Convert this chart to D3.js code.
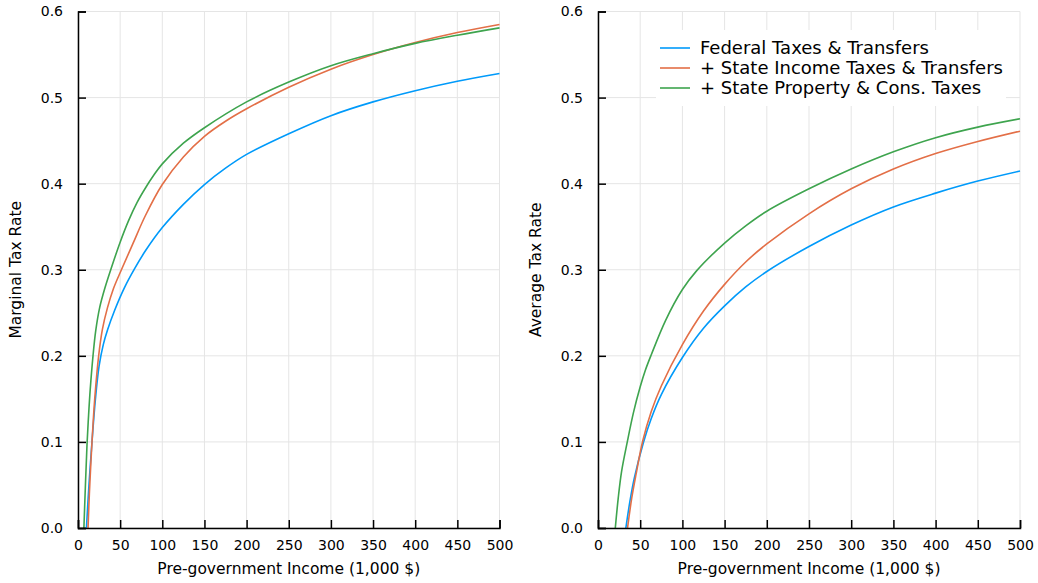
<!DOCTYPE html>
<html>
<head>
<meta charset="utf-8">
<script src="https://cdn.jsdelivr.net/npm/d3@7"></script>
<style>
  body { margin: 0; background: #fff; }
  svg { display: block; }
  text { font-family: "DejaVu Sans", sans-serif; fill: #000; }
</style>
</head>
<body>
<svg id="chart" width="1038" height="583"></svg>
<script>
// Series labels and colours
const seriesNames = [
  "Federal Taxes & Transfers",
  "+ State Income Taxes & Transfers",
  "+ State Property & Cons. Taxes"
];
const seriesColors = ["#009AFA", "#E36F47", "#3EA44E"];

// Axis ticks
const xTicks = [0, 50, 100, 150, 200, 250, 300, 350, 400, 450, 500];
const yTicks = [0.0, 0.1, 0.2, 0.3, 0.4, 0.5, 0.6];

// Marginal tax rates (income in 1,000 $)
const mtrFedIncome    = [10, 13, 16.6, 20.6, 25, 30, 35, 43.5, 55, 67, 80, 100, 125, 150, 175, 200, 250, 300, 350, 400, 450, 500];
const mtrFedRate      = [0, 0.05, 0.1, 0.149, 0.188, 0.213, 0.23, 0.253, 0.279, 0.301, 0.322, 0.349, 0.376, 0.399, 0.418, 0.434, 0.458, 0.479, 0.495, 0.508, 0.519, 0.528];
const mtrStIncIncome  = [11.9, 13.5, 15.5, 17.5, 20, 24.5, 29, 35, 42, 51.5, 65, 80, 100, 125, 150, 175, 200, 250, 300, 350, 400, 450, 500];
const mtrStIncRate    = [0, 0.04, 0.08, 0.115, 0.152, 0.2, 0.231, 0.256, 0.278, 0.30, 0.33, 0.363, 0.399, 0.431, 0.455, 0.4725, 0.487, 0.512, 0.533, 0.550, 0.564, 0.5756, 0.585];
const mtrStPropIncome = [7, 9, 10.7, 12.5, 14.5, 17.8, 21, 25.7, 32, 39.5, 50, 60, 70, 80, 90, 100, 125, 150, 200, 250, 300, 350, 400, 450, 500];
const mtrStPropRate   = [0, 0.055, 0.097, 0.13, 0.161, 0.2, 0.229, 0.256, 0.279, 0.302, 0.332, 0.357, 0.378, 0.395, 0.41, 0.423, 0.447, 0.465, 0.495, 0.518, 0.537, 0.551, 0.563, 0.5725, 0.581];

// Average tax rates (income in 1,000 $)
const atrFedIncome    = [33, 38, 43, 54, 63, 75, 100, 125, 150, 175, 200, 250, 300, 350, 400, 450, 500];
const atrFedRate      = [0, 0.032, 0.058, 0.1, 0.127, 0.155, 0.198, 0.232, 0.258, 0.28, 0.298, 0.327, 0.352, 0.373, 0.389, 0.403, 0.4147];
const atrStIncIncome  = [35, 40, 45, 53, 63, 75, 100, 125, 150, 175, 200, 250, 300, 350, 400, 450, 500];
const atrStIncRate    = [0, 0.035, 0.062, 0.101, 0.135, 0.165, 0.213, 0.252, 0.283, 0.309, 0.330, 0.365, 0.394, 0.417, 0.435, 0.449, 0.461];
const atrStPropIncome = [20.5, 24, 28, 34.7, 42, 50, 56, 63, 80, 100, 117, 150, 175, 200, 250, 300, 350, 400, 450, 500];
const atrStPropRate   = [0, 0.035, 0.066, 0.1, 0.134, 0.164, 0.183, 0.201, 0.241, 0.277, 0.299, 0.331, 0.351, 0.368, 0.394, 0.417, 0.437, 0.4534, 0.4657, 0.4754];

const pair = (xs, ys) => xs.map((x, i) => ({ x: x, y: ys[i] }));

const panels = [
  {
    left: 78, right: 499.5, yLabel: "Marginal Tax Rate", legend: false,
    series: [pair(mtrFedIncome, mtrFedRate), pair(mtrStIncIncome, mtrStIncRate), pair(mtrStPropIncome, mtrStPropRate)]
  },
  {
    left: 598, right: 1020, yLabel: "Average Tax Rate", legend: true,
    series: [pair(atrFedIncome, atrFedRate), pair(atrStIncIncome, atrStIncRate), pair(atrStPropIncome, atrStPropRate)]
  }
];

const plotTop = 11.5, plotBottom = 528;
const svg = d3.select("#chart");
const fmtY = d3.format(".1f");

panels.forEach((p, pi) => {
  const x = d3.scaleLinear().domain([0, 500]).range([p.left, p.right]);
  const y = d3.scaleLinear().domain([0, 0.6]).range([plotBottom, plotTop]);
  const g = svg.append("g");

  // grid
  g.append("g").selectAll("line").data(xTicks).join("line")
    .attr("x1", d => x(d)).attr("x2", d => x(d))
    .attr("y1", plotTop).attr("y2", plotBottom)
    .attr("stroke", "#e5e5e5").attr("stroke-width", 1);
  g.append("g").selectAll("line").data(yTicks).join("line")
    .attr("x1", p.left).attr("x2", p.right)
    .attr("y1", d => y(d)).attr("y2", d => y(d))
    .attr("stroke", "#e5e5e5").attr("stroke-width", 1);

  // curves
  const clipId = "clip" + pi;
  svg.append("clipPath").attr("id", clipId).append("rect")
    .attr("x", p.left).attr("y", plotTop - 2).attr("width", p.right - p.left + 2).attr("height", plotBottom - plotTop + 2);
  const line = d3.line().x(d => x(d.x)).y(d => y(d.y)).curve(d3.curveCatmullRom.alpha(0.5));
  p.series.forEach((s, si) => {
    g.append("path").datum(s)
      .attr("clip-path", `url(#${clipId})`)
      .attr("d", line)
      .attr("fill", "none")
      .attr("stroke", seriesColors[si])
      .attr("stroke-width", 1.6);
  });

  // axes with inward ticks
  const xAxis = d3.axisBottom(x).tickValues(xTicks).tickSize(-8).tickPadding(9).tickFormat(d3.format("d"));
  const yAxis = d3.axisLeft(y).tickValues(yTicks).tickSize(-8).tickPadding(8).tickFormat(fmtY);
  const gx = g.append("g").attr("transform", `translate(0,${plotBottom})`).call(xAxis);
  const gy = g.append("g").attr("transform", `translate(${p.left},0)`).call(yAxis);
  [gx, gy].forEach(a => {
    a.select(".domain").attr("stroke", "#000").attr("stroke-width", 1.5);
    a.selectAll(".tick line").attr("stroke", "#000").attr("stroke-width", 1.5);
    a.selectAll(".tick text").attr("font-size", 14).attr("font-family", "DejaVu Sans").attr("fill", "#000");
  });
  gx.selectAll(".tick text").attr("dy", "0.9em");
  gy.selectAll(".tick text").attr("x", -15);

  // axis titles
  g.append("text")
    .attr("x", (p.left + p.right) / 2).attr("y", 574)
    .attr("text-anchor", "middle").attr("font-size", 15.5)
    .text("Pre-government Income (1,000 $)");
  g.append("text")
    .attr("transform", `translate(${p.left - 57},${(plotTop + plotBottom) / 2}) rotate(-90)`)
    .attr("text-anchor", "middle").attr("font-size", 15.5)
    .text(p.yLabel);

  // legend
  if (p.legend) {
    const lg = g.append("g");
    lg.append("rect").attr("x", 656).attr("y", 30).attr("width", 350).attr("height", 76).attr("fill", "#fff");
    seriesNames.forEach((name, i) => {
      const ly = 48 + i * 20;
      lg.append("line").attr("x1", 660).attr("x2", 690).attr("y1", ly).attr("y2", ly)
        .attr("stroke", seriesColors[i]).attr("stroke-width", 1.6);
      lg.append("text").attr("x", 700).attr("y", ly).attr("dy", "0.35em")
        .attr("font-size", 18).text(name);
    });
  }
});
</script>
</body>
</html>
